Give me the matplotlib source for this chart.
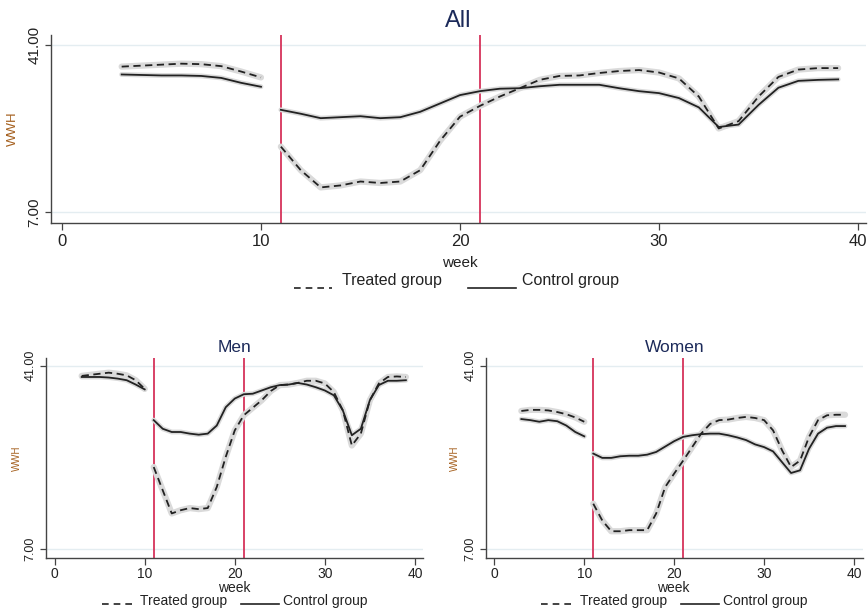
import numpy as np
import matplotlib
matplotlib.use("Agg")
import matplotlib.pyplot as plt
from matplotlib.lines import Line2D

plt.rcParams['font.family'] = ['Liberation Sans', 'DejaVu Sans']

# weeks before and after the break
weeks_pre = [3, 4, 5, 6, 7, 8, 9, 10]
weeks_post = list(range(11, 40))

# All
all_treat_pre = [36.6, 36.8, 37.0, 37.2, 37.1, 36.7, 35.6, 34.4]
all_ctrl_pre = [35.0, 34.9, 34.8, 34.8, 34.7, 34.3, 33.3, 32.5]
all_treat_post = [20.3, 15.5, 12.0, 12.4, 13.2, 12.9, 13.2, 15.5, 21.5, 26.4,
                  28.6, 30.5, 32.2, 33.9, 34.7, 34.8, 35.3, 35.7, 35.9, 35.4,
                  34.2, 30.5, 24.0, 25.5, 30.5, 34.5, 36.0, 36.3, 36.3]
all_ctrl_post = [27.8, 27.0, 26.1, 26.3, 26.5, 26.1, 26.3, 27.4, 29.1, 30.8,
                 31.6, 32.1, 32.2, 32.6, 32.9, 32.9, 32.9, 32.2, 31.6, 31.2,
                 30.2, 28.3, 24.3, 24.8, 28.8, 32.3, 33.7, 33.9, 34.0]

# Men
men_treat_pre = [39.1, 39.3, 39.5, 39.7, 39.5, 39.2, 38.3, 36.7]
men_ctrl_pre = [38.9, 38.9, 38.9, 38.8, 38.6, 38.3, 37.5, 36.6]
men_treat_post = [22.2, 17.9, 13.6, 14.2, 14.6, 14.4, 14.6, 18.5, 24.1, 29.0,
                  31.8, 33.2, 34.6, 36.3, 37.4, 37.5, 37.8, 38.2, 38.2, 37.7,
                  36.1, 32.7, 26.2, 28.4, 34.6, 37.7, 38.9, 39.0, 38.9]
men_ctrl_post = [30.9, 29.3, 28.7, 28.7, 28.4, 28.2, 28.4, 29.9, 33.3, 34.9,
                 35.7, 35.8, 36.4, 37.0, 37.4, 37.5, 37.8, 37.5, 37.0, 36.4,
                 35.5, 32.7, 28.1, 29.3, 34.6, 37.4, 38.2, 38.2, 38.3]

# Women
women_treat_pre = [32.6, 32.8, 32.8, 32.7, 32.4, 32.0, 31.4, 30.6]
women_ctrl_pre = [31.1, 30.9, 30.6, 30.9, 30.7, 29.9, 28.7, 27.9]
women_treat_post = [15.4, 12.3, 10.3, 10.3, 10.5, 10.5, 10.5, 13.6, 18.5, 21.0,
                    23.4, 25.9, 28.4, 30.2, 30.9, 31.0, 31.3, 31.5, 31.3, 30.9,
                    29.0, 25.3, 22.2, 23.4, 27.8, 30.9, 31.8, 31.9, 31.9]
women_ctrl_post = [24.7, 23.9, 23.9, 24.2, 24.3, 24.3, 24.5, 25.0, 26.0, 27.0,
                   27.8, 28.1, 28.3, 28.4, 28.4, 28.1, 27.7, 27.2, 26.4, 25.9,
                   25.1, 23.1, 21.1, 21.6, 25.6, 28.4, 29.5, 29.8, 29.8]

policy_weeks = [11, 21]
xticks = [0, 10, 20, 30, 40]
yticks = [7, 41]
ytick_labels = ["7.00", "41.00"]

RED = '#d6335a'
NAVY = '#1c2a5a'
BROWN = '#a5601f'
GRID = '#e4edf1'
HALO = '#dadada'
W, H = 868, 612


def fx(px):
    return px / W


def fy(py):
    return 1 - py / H


def panel(rect, xlim, ylim, series, title, title_size, tick_size, ytick_size,
          ylab_size, ylab_x, title_pad, xpad):
    ax = fig.add_axes(rect)
    ax.set_xlim(*xlim)
    ax.set_ylim(*ylim)
    for s in ['top', 'right']:
        ax.spines[s].set_visible(False)
    for s in ['left', 'bottom']:
        ax.spines[s].set_color('#444444')
        ax.spines[s].set_linewidth(1.0)
    for y in yticks:
        ax.axhline(y, color=GRID, lw=1.0, zorder=0)
    for w in policy_weeks:
        ax.axvline(w, color=RED, lw=1.3, zorder=1)
    for wk, tr, ct in series:
        ax.plot(wk, tr, color=HALO, lw=4.5, solid_capstyle='round', zorder=2)
        ax.plot(wk, ct, color=HALO, lw=3.5, solid_capstyle='round', zorder=2)
        ax.plot(wk, ct, color='#222222', lw=1.3, zorder=3)
        ax.plot(wk, tr, color='#222222', lw=1.3, ls=(0, (4, 2.5)), zorder=3)
    ax.set_xticks(xticks)
    ax.set_yticks(yticks)
    ax.set_yticklabels(ytick_labels, rotation=90, va='center')
    ax.tick_params(axis='x', length=5, width=0.9, color='#444444', labelsize=tick_size,
                   labelcolor='#222222', pad=xpad)
    ax.tick_params(axis='y', length=4, width=0.9, color='#444444', labelsize=ytick_size,
                   labelcolor='#222222', pad=3)
    ax.set_ylabel('WWH', color=BROWN, fontsize=ylab_size)
    ax.yaxis.set_label_coords(ylab_x, 0.5)
    ax.set_title(title, color=NAVY, fontsize=title_size, pad=title_pad)
    return ax


fig = plt.figure(figsize=(8.68, 6.12), dpi=100)

# top panel: All
ax1 = panel([fx(51), fy(223), fx(866 - 51), (223 - 35) / H],
            (-0.55, 40.4), (4.75, 43.04),
            [(weeks_pre, all_treat_pre, all_ctrl_pre),
             (weeks_post, all_treat_post, all_ctrl_post)],
            'All', 17, 12, 11, 9.5, -0.039, 6, 3)

# bottom left: Men
ax2 = panel([fx(46), fy(558), fx(423 - 46), (558 - 358) / H],
            (-0.96, 40.9), (5.34, 42.42),
            [(weeks_pre, men_treat_pre, men_ctrl_pre),
             (weeks_post, men_treat_post, men_ctrl_post)],
            'Men', 12.5, 10, 9, 7, -0.064, 4, 1.5)

# bottom right: Women
ax3 = panel([fx(486), fy(558), fx(863 - 486), (558 - 358) / H],
            (-0.93, 41.0), (5.34, 42.42),
            [(weeks_pre, women_treat_pre, women_ctrl_pre),
             (weeks_post, women_treat_post, women_ctrl_post)],
            'Women', 12.5, 10, 9, 7, -0.069, 4, 1.5)

# x labels
fig.text(fx(460), fy(263), 'week', ha='center', va='center', fontsize=11, color='#222222')
fig.text(fx(234), fy(588), 'week', ha='center', va='center', fontsize=10, color='#222222')
fig.text(fx(673), fy(588), 'week', ha='center', va='center', fontsize=10, color='#222222')


def legend(x_dash, x_tt, x_solid, x_ct, y_line, y_text, size):
    fig.add_artist(Line2D([fx(x_dash[0]), fx(x_dash[1])], [fy(y_line)] * 2,
                          color='#222222', lw=1.2, ls=(0, (4, 3))))
    fig.text(fx(x_tt), fy(y_text), 'Treated group', ha='left', va='center',
             fontsize=size, color='#222222')
    fig.add_artist(Line2D([fx(x_solid[0]), fx(x_solid[1])], [fy(y_line)] * 2,
                          color='#222222', lw=1.2))
    fig.text(fx(x_ct), fy(y_text), 'Control group', ha='left', va='center',
             fontsize=size, color='#222222')


legend((294, 332), 342, (468, 516), 522, 288, 281, 11.5)
legend((102, 133), 140, (241, 279), 283, 604, 601, 10)
legend((541, 573), 580, (681, 719), 723, 604, 601, 10)

fig.savefig('out.png', dpi=100)
